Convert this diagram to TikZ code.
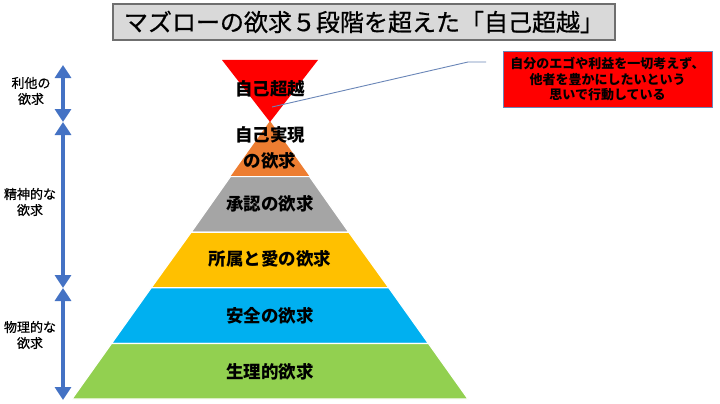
\documentclass[tikz,border=0pt]{standalone}
\usepackage{fontspec}
\setmainfont{Noto Sans CJK JP}
\newfontfamily\semibold{Noto Sans CJK JP}[FakeBold=0.6]
\usetikzlibrary{arrows.meta}
\definecolor{cred}{HTML}{FF0000}
\definecolor{corange}{HTML}{ED7D31}
\definecolor{cgray}{HTML}{A5A5A5}
\definecolor{cyellow}{HTML}{FFC000}
\definecolor{cblue}{HTML}{00B0F0}
\definecolor{cgreen}{HTML}{92D050}
\definecolor{carrow}{HTML}{4472C4}
\definecolor{cline}{HTML}{6A86B8}
\definecolor{ctitle}{HTML}{D9D9D9}
\definecolor{ctitleb}{HTML}{6F6F6F}
\tikzset{
  layer/.style={draw=white, line width=1.2pt},
  lvlabel/.style={font=\fontsize{17.5}{19}\selectfont\bfseries, text=black, align=center},
  sidelabel/.style={font=\fontsize{13}{16}\selectfont\semibold, align=center},
  brace/.style={carrow, line width=3.8pt, {Triangle[width=16pt,length=13pt]}-{Triangle[width=16pt,length=13pt]}},
}
\begin{document}
\begin{tikzpicture}[x=1pt,y=-1pt]
\useasboundingbox (0,0) rectangle (720,404);
\fill[white] (0,0) rectangle (720,404);
% pyramid
\fill[corange] (270,121) -- (230.4,176.6) -- (309.6,176.6) -- cycle;
\filldraw[layer, fill=cgray] (230.4,176.6) -- (309.6,176.6) -- (348.8,232.2) -- (191.2,232.2) -- cycle;
\filldraw[layer, fill=cyellow] (191.2,232.2) -- (348.8,232.2) -- (388.8,287.8) -- (151.2,287.8) -- cycle;
\filldraw[layer, fill=cblue] (151.2,287.8) -- (388.8,287.8) -- (428.4,343.4) -- (111.6,343.4) -- cycle;
\filldraw[layer, fill=cgreen] (111.6,343.4) -- (428.4,343.4) -- (468,399) -- (72,399) -- cycle;
\fill[cred] (222,60) -- (318,60) -- (270,122) -- cycle;
% labels
\node[lvlabel] (st) at (270,89) {自己超越};
\node[lvlabel] (sa) at (270,147.5) {自己実現\\[7pt]の欲求};
\node[lvlabel] (es) at (270,204) {承認の欲求};
\node[lvlabel] (lb) at (270,259) {所属と愛の欲求};
\node[lvlabel] (sf) at (270,316) {安全の欲求};
\node[lvlabel] (ph) at (270,372) {生理的欲求};
% title
\node[draw=ctitleb, line width=1.2pt, fill=ctitle, minimum width=502pt, minimum height=36pt, inner sep=0pt,
  font=\fontsize{24}{26}\selectfont\semibold] (title) at (364,22) {マズローの欲求５段階を超えた「自己超越」};
% callout
\node[draw=cline, line width=0.8pt, fill=cred, minimum width=209pt, minimum height=56pt, inner sep=0pt,
  align=center, font=\fontsize{13}{15.5}\selectfont\bfseries] (call) at (607.5,79)
  {自分のエゴや利益を一切考えず、\\他者を豊かにしたいという\\思いで行動している};
\coordinate (cs) at (272,107);
\coordinate (cm) at (468,62);
\coordinate (ce) at (486,62);
\draw[cline, line width=0.9pt] (cs) -- (cm) -- (ce);
% side arrows
\coordinate (a0) at (63,65);
\coordinate (a1) at (63,122);
\coordinate (a2) at (63,288);
\coordinate (a3) at (63,400);
\draw[brace] (a0) -- (a1);
\draw[brace] (a1) -- (a2);
\draw[brace] (a2) -- (a3);
\node[sidelabel] (s1) at (31,91) {利他の\\欲求};
\node[sidelabel] (s2) at (30,202) {精神的な\\欲求};
\node[sidelabel] (s3) at (30,335) {物理的な\\欲求};
\end{tikzpicture}
\end{document}
